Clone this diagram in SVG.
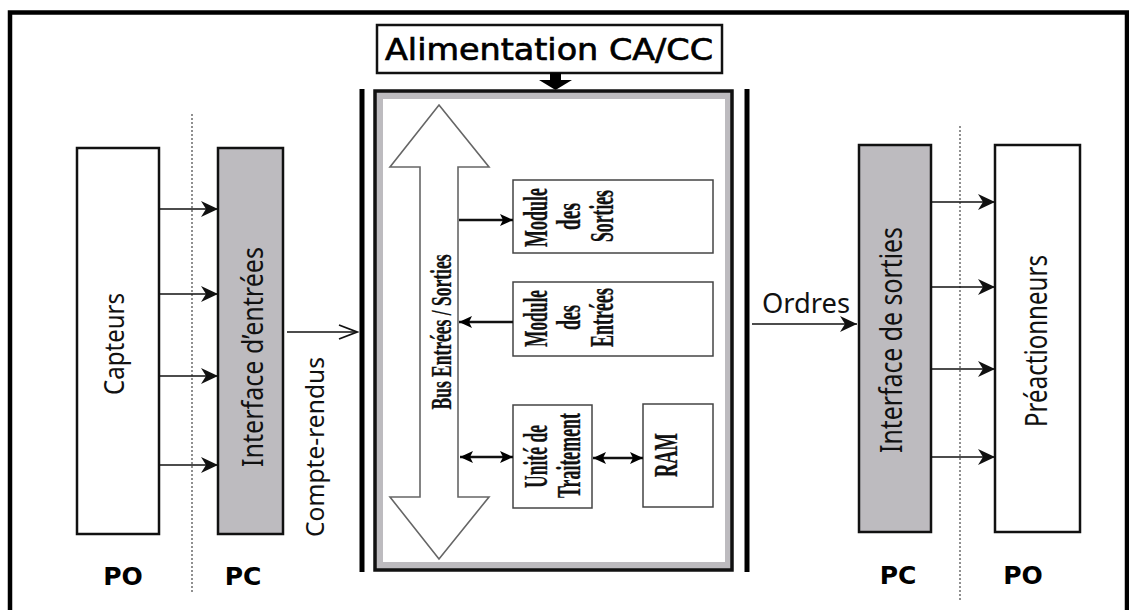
<svg xmlns="http://www.w3.org/2000/svg" width="1129" height="610" viewBox="0 0 1129 610">
<style>
.box{fill:#fff;stroke:#111;stroke-width:2.5}
.gbox{fill:#bdbbbf;stroke:#111;stroke-width:2.5}
.mod{fill:#fff;stroke:#444;stroke-width:1.5}
.lbl{font-family:"Noto Sans","Open Sans",sans-serif;fill:#111}
.ser{font-family:"Liberation Serif","Times New Roman",serif;font-weight:bold;fill:#111;stroke:#111;stroke-width:0.3}
.po{font-family:"DejaVu Sans",Verdana,sans-serif;font-weight:bold;font-size:25px;fill:#000}
.thin{stroke:#111;stroke-width:1.6;fill:none}
.thick{stroke:#111;stroke-width:2.5;fill:none}
.dot{stroke:#555;stroke-width:1.3;stroke-dasharray:2,2;fill:none}
</style>
<defs>
<marker id="st" markerWidth="18" markerHeight="16" refX="17" refY="8" orient="auto" markerUnits="userSpaceOnUse">
<path d="M0,0 L17,8 L0,16 L5,8 z" fill="#111"/>
</marker>
<marker id="open" markerWidth="22" markerHeight="18" refX="20" refY="8" orient="auto" markerUnits="userSpaceOnUse">
<path d="M2,1 L20,8 L2,15" fill="none" stroke="#111" stroke-width="1.8"/>
</marker>
<marker id="fh" markerWidth="14" markerHeight="12" refX="13" refY="6" orient="auto" markerUnits="userSpaceOnUse">
<path d="M0,0 L13,6 L0,12 L3,6 z" fill="#000"/>
</marker>
<marker id="fhs" markerWidth="14" markerHeight="12" refX="1" refY="6" orient="auto" markerUnits="userSpaceOnUse">
<path d="M14,0 L1,6 L14,12 L11,6 z" fill="#000"/>
</marker>
</defs>

<!-- outer frame (no bottom edge) -->
<path d="M10,610 L10,12.5 L1127,12.5 L1127,610" fill="none" stroke="#000" stroke-width="4.5"/>

<!-- dotted separators -->
<line class="dot" x1="192" y1="114" x2="192" y2="593"/>
<line class="dot" x1="960" y1="126" x2="960" y2="600"/>

<!-- vertical bars -->
<rect x="359.5" y="89" width="5" height="483" fill="#000"/>
<rect x="744.5" y="89" width="5" height="483" fill="#000"/>

<g id="alimentation">
<rect x="377" y="25" width="345" height="48" fill="#fff" stroke="#111" stroke-width="2.5"/>
<text x="549" y="60" text-anchor="middle" font-family="'DejaVu Sans',Verdana,sans-serif" font-size="31" fill="#000" stroke="#000" stroke-width="0.7" textLength="328" lengthAdjust="spacingAndGlyphs">Alimentation CA/CC</text>
<path d="M550,73 L561,73 L561,80 L572,80 L555.5,90 L539,80 L550,80 z" fill="#000"/>
</g>

<g id="automate">
<rect x="375" y="91" width="357" height="479" fill="#bdbbbf" stroke="#111" stroke-width="3.5"/>
<rect x="383" y="99" width="342" height="463" fill="#fff"/>
</g>

<g id="bus">
<path d="M439,105 L489,167 L458,167 L458,497 L489,497 L439,559 L390,497 L420,497 L420,167 L390,167 z" fill="#fff" stroke="#666" stroke-width="1.6"/>
<text class="ser" transform="translate(451,332) rotate(-90)" x="0" y="0" text-anchor="middle" font-size="30" textLength="155" lengthAdjust="spacingAndGlyphs">Bus Entrées / Sorties</text>
</g>

<g id="module-sorties">
<rect class="mod" x="513" y="180" width="200" height="73"/>
<text class="ser" transform="translate(547,217.5) rotate(-90)" text-anchor="middle" font-size="34" textLength="59" lengthAdjust="spacingAndGlyphs">Module</text>
<text class="ser" transform="translate(580,216.5) rotate(-90)" text-anchor="middle" font-size="34" textLength="27" lengthAdjust="spacingAndGlyphs">des</text>
<text class="ser" transform="translate(613,216) rotate(-90)" text-anchor="middle" font-size="34" textLength="52" lengthAdjust="spacingAndGlyphs">Sorties</text>
</g>

<g id="module-entrees">
<rect class="mod" x="513" y="282" width="200" height="74"/>
<text class="ser" transform="translate(547,318.5) rotate(-90)" text-anchor="middle" font-size="34" textLength="57" lengthAdjust="spacingAndGlyphs">Module</text>
<text class="ser" transform="translate(580,317.5) rotate(-90)" text-anchor="middle" font-size="34" textLength="25" lengthAdjust="spacingAndGlyphs">des</text>
<text class="ser" transform="translate(613,317.5) rotate(-90)" text-anchor="middle" font-size="34" textLength="59" lengthAdjust="spacingAndGlyphs">Entrées</text>
</g>

<g id="unite-traitement">
<rect class="mod" x="513" y="405" width="79" height="103"/>
<text class="ser" transform="translate(547,456.5) rotate(-90)" text-anchor="middle" font-size="33" textLength="63" lengthAdjust="spacingAndGlyphs">Unité de</text>
<text class="ser" transform="translate(580,455.5) rotate(-90)" text-anchor="middle" font-size="33" textLength="85" lengthAdjust="spacingAndGlyphs">Traitement</text>
</g>

<g id="ram">
<rect class="mod" x="643" y="404" width="70" height="103"/>
<text class="ser" transform="translate(677,455) rotate(-90)" text-anchor="middle" font-size="33" textLength="44" lengthAdjust="spacingAndGlyphs">RAM</text>
</g>

<g id="capteurs">
<rect class="box" x="77" y="148" width="82" height="386"/>
<text class="lbl" transform="translate(124,344) rotate(-90)" text-anchor="middle" font-size="27" textLength="102" lengthAdjust="spacingAndGlyphs">Capteurs</text>
</g>

<g id="interface-entrees">
<rect class="gbox" x="218" y="148" width="65" height="386"/>
<text class="lbl" transform="translate(263,357) rotate(-90)" text-anchor="middle" font-size="29" textLength="220" lengthAdjust="spacingAndGlyphs">Interface d’entrées</text>
</g>

<g id="interface-sorties">
<rect class="gbox" x="859" y="145" width="72" height="387"/>
<text class="lbl" transform="translate(902,340) rotate(-90)" text-anchor="middle" font-size="30" textLength="226" lengthAdjust="spacingAndGlyphs">Interface de sorties</text>
</g>

<g id="preactionneurs">
<rect class="box" x="995" y="145" width="85" height="387"/>
<text class="lbl" transform="translate(1047,341) rotate(-90)" text-anchor="middle" font-size="31" textLength="172" lengthAdjust="spacingAndGlyphs">Préactionneurs</text>
</g>

<g id="labels">
<text class="lbl" transform="translate(324,447) rotate(-90)" text-anchor="middle" font-size="26" textLength="180" lengthAdjust="spacingAndGlyphs">Compte-rendus</text>
<text class="lbl" x="806" y="313" text-anchor="middle" font-size="27" textLength="88" lengthAdjust="spacingAndGlyphs">Ordres</text>
<text class="po" x="123" y="585" text-anchor="middle">PO</text>
<text class="po" x="243" y="585" text-anchor="middle">PC</text>
<text class="po" x="898" y="584" text-anchor="middle">PC</text>
<text class="po" x="1023" y="584" text-anchor="middle">PO</text>
</g>

<g id="connectors">
<line class="thin" x1="159" y1="209" x2="218" y2="209" marker-end="url(#st)"/>
<line class="thin" x1="159" y1="294" x2="218" y2="294" marker-end="url(#st)"/>
<line class="thin" x1="159" y1="376" x2="218" y2="376" marker-end="url(#st)"/>
<line class="thin" x1="159" y1="465" x2="218" y2="465" marker-end="url(#st)"/>
<line class="thin" x1="931" y1="202" x2="995" y2="202" marker-end="url(#st)"/>
<line class="thin" x1="931" y1="287" x2="995" y2="287" marker-end="url(#st)"/>
<line class="thin" x1="931" y1="369" x2="995" y2="369" marker-end="url(#st)"/>
<line class="thin" x1="931" y1="457" x2="995" y2="457" marker-end="url(#st)"/>
<line class="thin" x1="287" y1="332" x2="357" y2="332" marker-end="url(#open)"/>
<line class="thin" x1="752" y1="324" x2="857" y2="324" marker-end="url(#st)"/>
<line class="thick" x1="459" y1="220" x2="513" y2="220" marker-end="url(#fh)"/>
<line class="thick" x1="513" y1="322" x2="459" y2="322" marker-end="url(#fh)"/>
<line class="thick" x1="460" y1="457" x2="513" y2="457" marker-start="url(#fhs)" marker-end="url(#fh)"/>
<line class="thick" x1="593" y1="458" x2="643" y2="458" marker-start="url(#fhs)" marker-end="url(#fh)"/>
</g>
</svg>
